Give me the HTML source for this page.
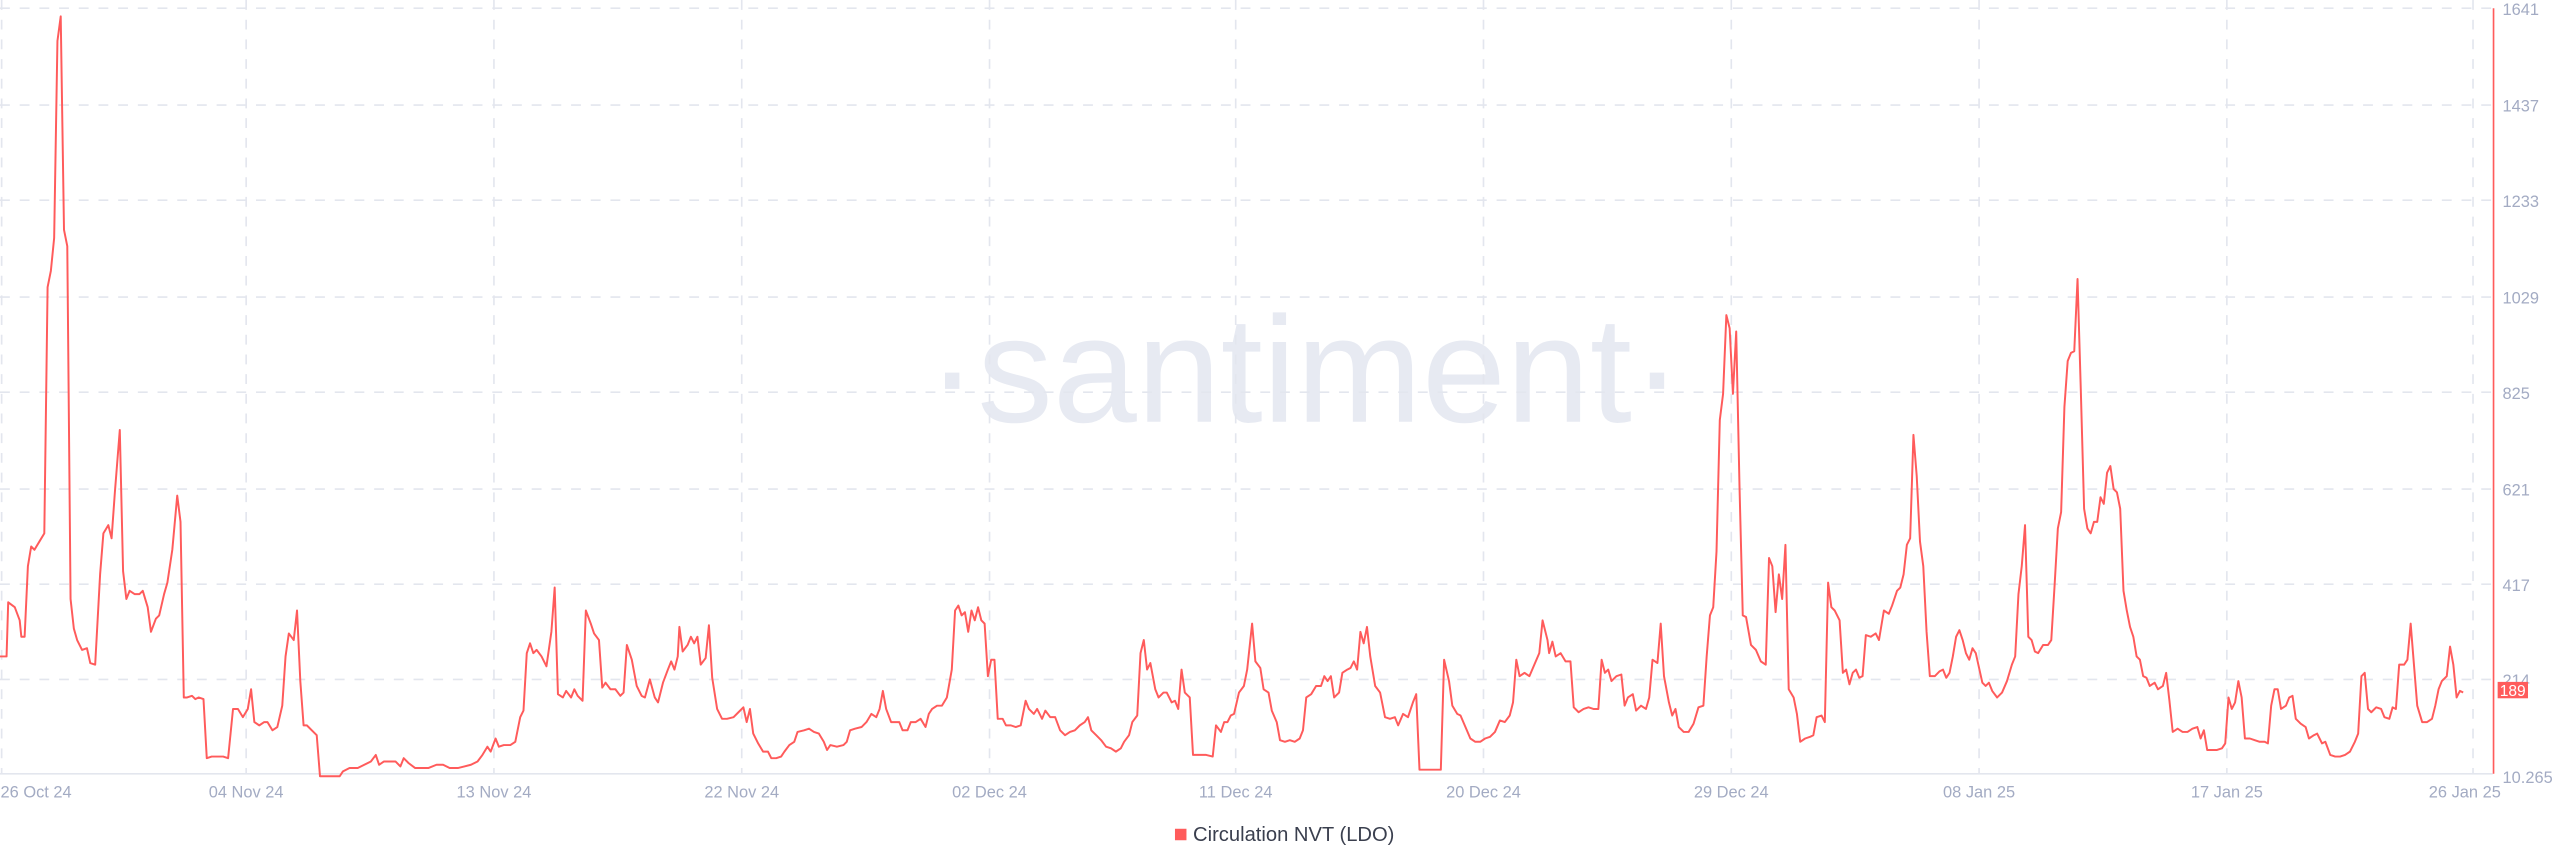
<!DOCTYPE html>
<html><head><meta charset="utf-8"><style>
html,body{margin:0;padding:0;background:#fff;}
svg{display:block;}
text{font-family:"Liberation Sans",sans-serif;}
</style></head><body>
<svg width="2560" height="867" viewBox="0 0 1560 528.3" preserveAspectRatio="none" xmlns="http://www.w3.org/2000/svg">
<rect width="1560" height="528.3" fill="#fff"/>
<text x="795" y="257" text-anchor="middle" font-size="92" fill="#e7eaf2" style="font-family:'Liberation Sans',sans-serif">·santiment·</text>
<g stroke="#e3e6ee" stroke-width="1" stroke-dasharray="6,6">
<line x1="0" x2="1519" y1="5" y2="5"/><line x1="0" x2="1519" y1="64" y2="64"/><line x1="0" x2="1519" y1="122" y2="122"/><line x1="0" x2="1519" y1="181" y2="181"/><line x1="0" x2="1519" y1="239" y2="239"/><line x1="0" x2="1519" y1="298" y2="298"/><line x1="0" x2="1519" y1="356" y2="356"/><line x1="0" x2="1519" y1="414" y2="414"/>
<line y1="0" y2="471" x1="1" x2="1"/><line y1="0" y2="471" x1="150" x2="150"/><line y1="0" y2="471" x1="301" x2="301"/><line y1="0" y2="471" x1="452" x2="452"/><line y1="0" y2="471" x1="603" x2="603"/><line y1="0" y2="471" x1="753" x2="753"/><line y1="0" y2="471" x1="904" x2="904"/><line y1="0" y2="471" x1="1055" x2="1055"/><line y1="0" y2="471" x1="1206" x2="1206"/><line y1="0" y2="471" x1="1357" x2="1357"/><line y1="0" y2="471" x1="1507" x2="1507"/>
</g>
<line x1="0" x2="1519" y1="471.5" y2="471.5" stroke="#e3e6ee"/>
<line x1="1519.5" x2="1519.5" y1="5" y2="471.5" stroke="#ff5b5b" stroke-width="1"/>
<g font-size="10" fill="#a3abc3">
<text x="1525" y="9">1641</text><text x="1525" y="68">1437</text><text x="1525" y="126">1233</text><text x="1525" y="185">1029</text><text x="1525" y="243">825</text><text x="1525" y="302">621</text><text x="1525" y="360">417</text><text x="1525" y="418">214</text><text x="1525" y="477">10.265</text>
</g>
<g font-size="10" fill="#a3abc3" text-anchor="middle">
<text x="22" y="486">26 Oct 24</text><text x="150" y="486">04 Nov 24</text><text x="301" y="486">13 Nov 24</text><text x="452" y="486">22 Nov 24</text><text x="603" y="486">02 Dec 24</text><text x="753" y="486">11 Dec 24</text><text x="904" y="486">20 Dec 24</text><text x="1055" y="486">29 Dec 24</text><text x="1206" y="486">08 Jan 25</text><text x="1357" y="486">17 Jan 25</text><text x="1502" y="486">26 Jan 25</text>
</g>
<polyline fill="none" stroke="#ff5b5b" stroke-width="1.2" stroke-linejoin="round" points="0,400 4,400 5,367 9,370 12,378 13,388 15,388 17,345 19,333 21,335 24,330 27,325 29,175 31,165 33,145 35,25 37,10 39,140 41,150 43,365 45,383 47,390 50,396 53,395 55,404 58,405 61,350 63,325 66,320 68,328 70,300 73,262 75,348 77,365 79,360 82,362 85,362 87,360 90,370 92,385 95,377 97,375 100,362 102,355 105,335 108,302 110,318 112,425 114,425 117,424 119,426 121,425 124,426 126,462 129,461 132,461 136,461 139,462 142,432 145,432 148,437 151,432 153,420 155,440 158,442 161,440 163,440 166,445 169,443 172,430 174,400 176,386 179,390 181,372 183,415 185,442 187,442 190,445 193,448 195,473 207,473 209,470 213,468 218,468 222,466 226,464 229,460 231,466 234,464 238,464 241,464 244,467 246,462 249,465 253,468 257,468 261,468 266,466 270,466 274,468 279,468 283,467 287,466 291,464 294,460 297,455 299,458 302,450 304,455 307,454 311,454 314,452 317,437 319,433 321,398 323,392 325,398 327,396 330,400 333,406 336,385 338,358 340,423 343,425 345,421 348,425 350,420 352,424 355,427 357,372 360,380 362,386 365,390 367,419 369,416 372,420 375,420 378,424 380,422 382,393 385,402 388,418 391,424 393,425 396,414 399,425 401,428 404,416 407,408 409,403 411,408 413,400 414,382 416,397 419,393 421,388 423,392 425,388 427,405 430,401 432,381 434,413 437,432 440,438 443,438 447,437 450,434 453,431 455,440 457,432 459,447 462,453 465,458 468,458 470,462 473,462 476,461 478,458 481,454 484,452 486,446 490,445 493,444 496,446 499,447 502,452 504,457 506,454 510,455 514,454 516,452 518,445 521,444 525,443 528,440 531,435 534,437 536,432 538,421 540,432 543,440 546,440 548,440 550,445 553,445 555,440 558,440 561,438 564,443 566,435 568,432 571,430 574,430 577,425 580,408 582,372 584,369 586,375 588,373 590,385 592,372 594,378 596,370 598,378 600,380 602,412 604,402 606,402 608,438 611,438 613,442 616,442 619,443 622,442 625,427 627,432 630,435 632,432 635,438 637,433 640,437 643,437 646,445 649,448 652,446 655,445 658,442 661,440 663,437 665,445 668,448 671,451 674,455 677,456 680,458 683,456 685,452 688,448 690,440 693,436 695,398 697,390 699,408 701,404 704,420 706,425 709,422 711,422 714,428 716,427 718,432 720,408 722,422 725,425 727,460 731,460 735,460 739,461 741,442 744,446 746,440 748,440 750,436 752,435 755,422 758,418 760,408 763,380 765,403 768,407 770,420 773,422 775,433 778,440 780,451 783,452 786,451 789,452 792,450 794,445 796,425 799,423 802,418 805,418 807,412 809,415 811,412 813,425 816,422 818,410 821,408 823,407 825,403 827,408 829,385 831,392 833,382 835,400 838,418 841,422 844,437 847,438 850,437 852,442 855,435 858,437 861,428 863,423 865,469 870,469 875,469 878,469 880,402 883,415 885,430 888,435 890,436 893,443 896,450 899,452 902,452 905,450 908,449 911,446 914,439 917,440 920,436 922,428 924,402 926,412 929,410 932,412 935,405 938,398 940,378 943,390 944,398 946,391 948,400 951,398 954,403 957,403 959,431 962,434 965,432 968,431 971,432 974,432 976,402 978,410 980,408 982,415 985,412 988,411 990,430 992,425 995,423 997,433 1000,430 1003,432 1005,425 1007,402 1010,404 1012,380 1014,412 1017,428 1019,436 1021,432 1023,443 1026,446 1029,446 1032,441 1035,431 1038,430 1040,400 1042,375 1044,370 1046,336 1048,256 1050,240 1052,192 1054,200 1056,240 1058,202 1060,296 1062,375 1064,376 1067,393 1070,396 1073,403 1076,405 1078,340 1080,345 1082,373 1084,350 1086,365 1088,332 1090,420 1093,425 1095,435 1097,452 1100,450 1103,449 1105,448 1107,437 1110,436 1112,440 1114,355 1116,370 1118,372 1121,378 1123,410 1125,408 1127,417 1129,410 1131,408 1133,413 1135,412 1137,387 1140,388 1143,386 1145,390 1148,372 1151,374 1153,369 1156,360 1158,358 1160,350 1162,332 1164,328 1166,265 1168,290 1170,330 1172,345 1174,385 1176,412 1179,412 1182,409 1184,408 1186,413 1188,410 1190,400 1192,388 1194,384 1196,390 1198,398 1200,402 1202,395 1204,398 1206,407 1208,416 1210,418 1212,416 1214,421 1217,425 1220,422 1223,415 1226,405 1228,400 1230,362 1232,345 1234,320 1236,388 1238,390 1240,397 1242,398 1245,393 1248,393 1250,390 1252,357 1254,322 1256,312 1258,248 1260,220 1262,215 1264,214 1266,170 1268,238 1270,310 1272,322 1274,325 1276,318 1278,318 1280,303 1282,307 1284,288 1286,284 1288,298 1290,300 1292,310 1294,360 1296,372 1298,382 1300,388 1302,400 1304,402 1306,412 1308,413 1310,418 1313,416 1315,420 1318,418 1320,410 1322,427 1324,446 1327,444 1330,446 1333,446 1336,444 1339,443 1341,450 1343,445 1345,457 1348,457 1351,457 1354,456 1356,453 1358,425 1360,432 1362,428 1364,415 1366,425 1368,450 1371,450 1374,451 1377,452 1380,452 1382,453 1384,430 1386,420 1388,420 1390,432 1393,430 1395,425 1397,424 1399,438 1402,441 1405,443 1407,450 1410,448 1412,447 1415,453 1417,452 1420,460 1423,461 1426,461 1429,460 1432,458 1435,452 1437,447 1439,412 1441,410 1443,432 1445,434 1448,431 1451,432 1453,437 1456,438 1458,431 1460,432 1462,405 1465,405 1467,402 1469,380 1471,405 1473,430 1476,440 1479,440 1482,438 1484,430 1486,420 1488,415 1491,412 1493,394 1495,405 1497,425 1499,421 1501,422"/>
<rect x="1522" y="415.5" width="18.5" height="10" fill="#ff5b5b"/>
<text x="1531.2" y="424" font-size="9.5" fill="#fff" text-anchor="middle">189</text>
<rect x="716" y="505" width="7" height="7" fill="#ff5b5b"/>
<text x="727" y="512.5" font-size="12.3" fill="#3a3f4e">Circulation NVT (LDO)</text>
</svg>
</body></html>
